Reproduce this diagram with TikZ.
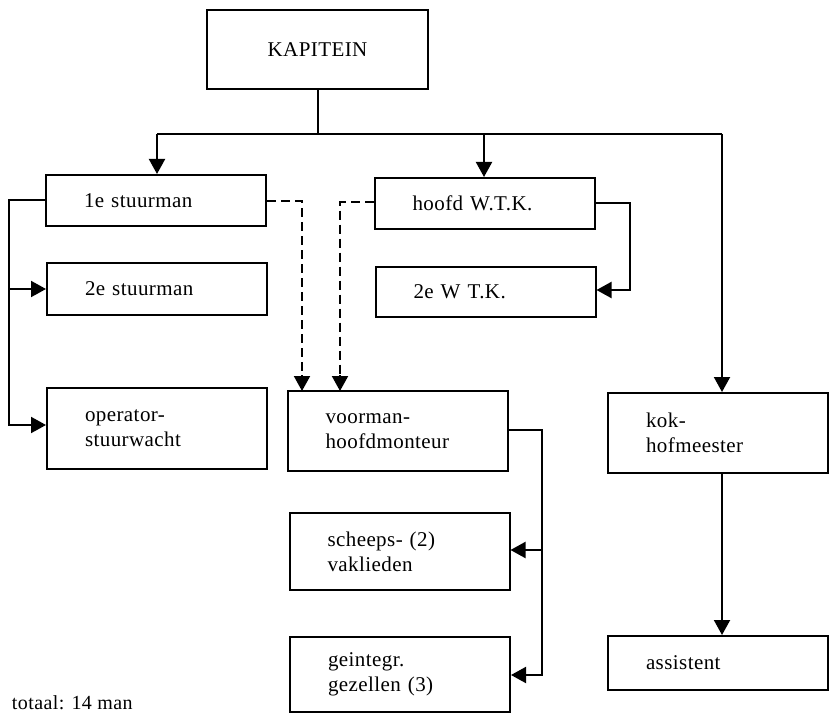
\documentclass[tikz,border=0pt]{standalone}
\usepackage{fontspec}
\setmainfont[LetterSpace=2]{Liberation Serif}
\usetikzlibrary{arrows.meta}
\begin{document}
\begin{tikzpicture}[x=1pt,y=-1pt,line width=2pt,
  box/.style={draw, rectangle, inner xsep=38pt, inner ysep=0pt, text width=144pt,
    align=left, font=\fontsize{21}{25}\selectfont},
  arr/.style={-{Triangle[width=16pt,length=15pt]}},
  dsh/.style={dash pattern=on 9pt off 5pt}]
\useasboundingbox (0,0) rectangle (829,714);
% boxes
\node[draw, rectangle, minimum width=221pt, minimum height=79pt, font=\fontsize{21}{25}\selectfont] (kap) at (317.5,49.5) {KAPITEIN};
\node[box, minimum height=51pt] (st1) at (156,200.5) {1e stuurman};
\node[box, minimum height=52pt] (st2) at (157,289) {2e stuurman};
\node[box, minimum height=81pt] (op) at (157,428.5) {operator-\\stuurwacht};
\node[box, minimum height=51pt] (wtk1) at (484.5,203.5) {hoofd W.T.K.};
\node[box, minimum height=50pt] (wtk2) at (485.5,292) {2e W T.K.};
\node[box, minimum height=80pt] (voor) at (397.5,431) {voorman-\\hoofdmonteur};
\node[box, minimum height=77pt] (sch) at (399.5,551.5) {scheeps- (2)\\vaklieden};
\node[box, minimum height=75pt] (gez) at (400,674) {geintegr.\\gezellen (3)};
\node[box, minimum height=80pt] (kok) at (718,433) {kok-\\hofmeester};
\node[box, minimum height=54pt] (ass) at (718,663) {assistent};
\node[anchor=base west, inner sep=0pt, font=\fontsize{20}{24}\selectfont] (tot) at (11,709) {totaal: 14 man};
% top distribution
\coordinate (bus) at (318,134);
\coordinate (busL) at (157,134);
\coordinate (busM) at (484,134);
\coordinate (busR) at (722,134);
\draw (kap.south -| bus) -- (bus);
\draw (busL) -- (busR);
\draw[arr] (busL) -- (busL |- st1.north);
\draw[arr] (busM) -- (busM |- wtk1.north);
\draw[arr] (busR) -- (busR |- kok.north);
% left bracket
\coordinate (lb1) at (9,200);
\coordinate (lb2) at (9,289);
\coordinate (lb3) at (9,425);
\draw[arr] (lb1 -| st1.west) -- (lb1) -- (lb3) -- (lb3 -| op.west);
\draw[arr] (lb2) -- (st2.west);
% right bracket WTK
\coordinate (rb1) at (630,203);
\coordinate (rb2) at (630,290);
\draw[arr] (rb1 -| wtk1.east) -- (rb1) -- (rb2) -- (rb2 -| wtk2.east);
% dashed
\coordinate (d1a) at (302,201);
\coordinate (d2a) at (340,202);
\draw[dsh] (d1a -| st1.east) -- (d1a) -- (302,375);
\draw[arr] (302,375) -- (302,391);
\draw[dsh] (d2a -| wtk1.west) -- (d2a) -- (340,375);
\draw[arr] (340,375) -- (340,391);
% voorman bracket
\coordinate (vb1) at (542,430);
\coordinate (vb2) at (542,550);
\coordinate (vb3) at (542,675);
\draw[arr] (vb1 -| voor.east) -- (vb1) -- (vb3) -- (vb3 -| gez.east);
\draw[arr] (vb2) -- (vb2 -| sch.east);
% kok to assistent
\draw[arr] (busR |- kok.south) -- (busR |- ass.north);
\end{tikzpicture}
\end{document}
